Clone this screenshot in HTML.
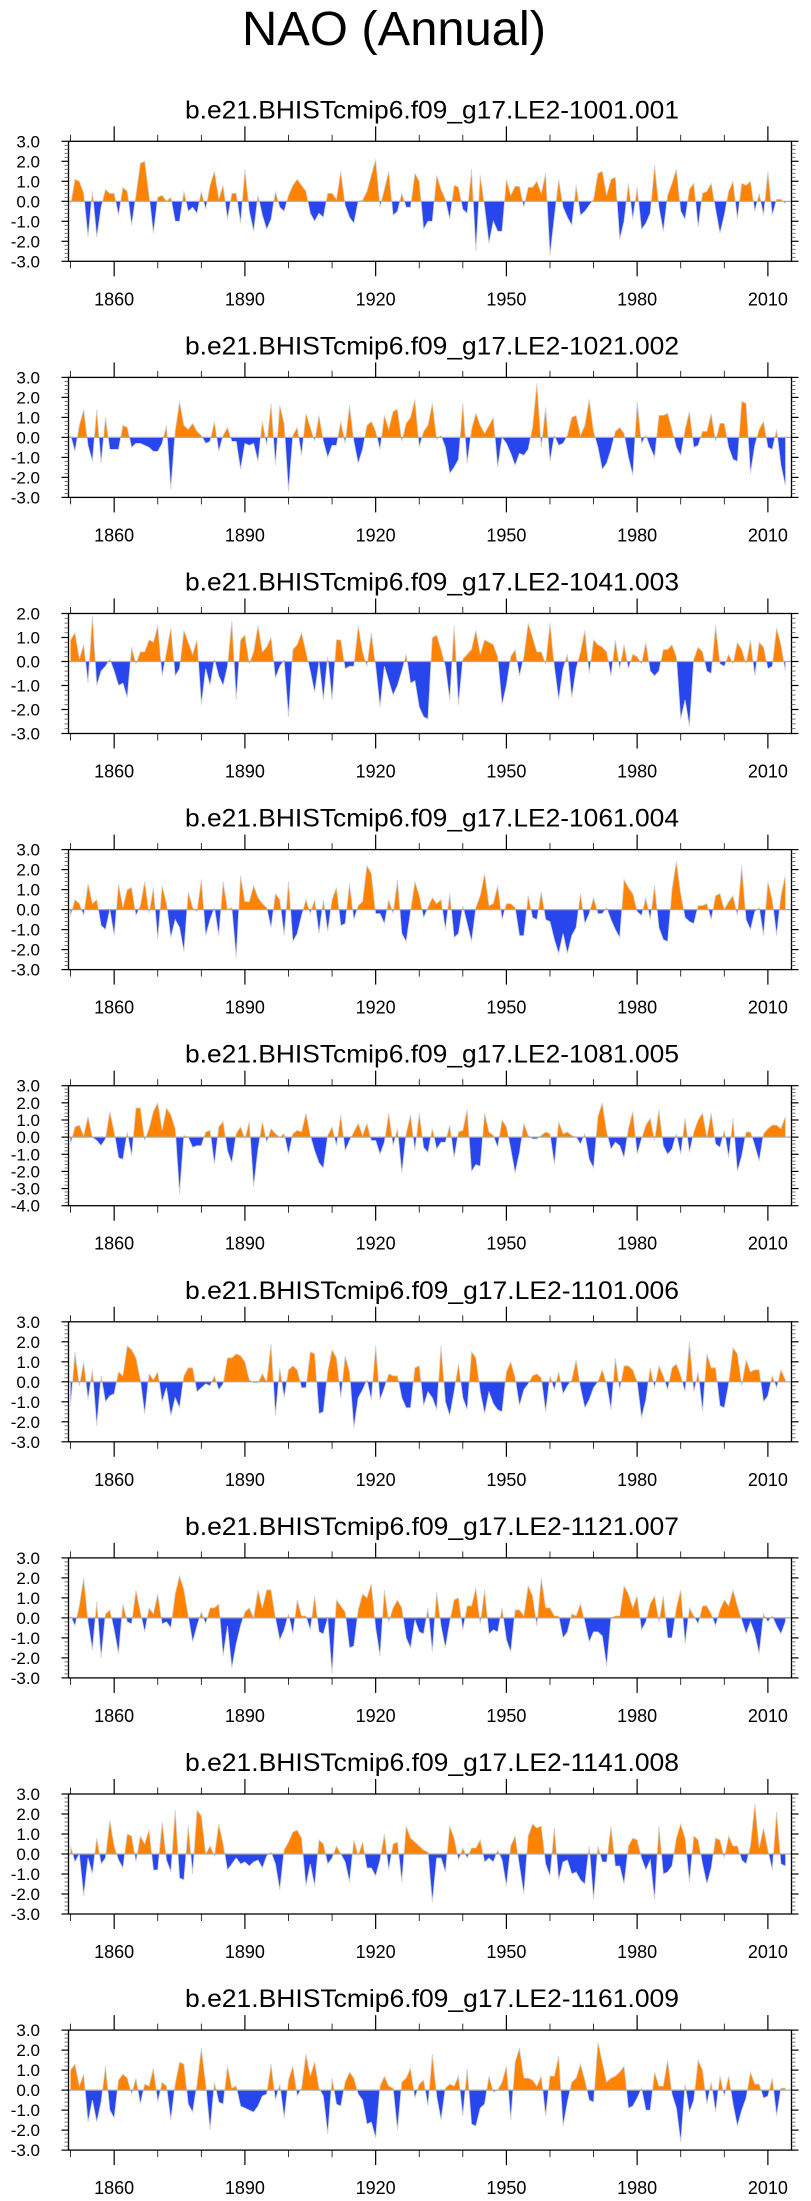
<!DOCTYPE html>
<html>
<head>
<meta charset="utf-8">
<style>
html,body{margin:0;padding:0;background:#fff;}
svg{display:block;}
text{font-family:"Liberation Sans",Arial,sans-serif;fill:#000;}
</style>
</head>
<body>
<svg id="chart" width="811" height="2201" viewBox="0 0 811 2201" xmlns="http://www.w3.org/2000/svg">
<rect x="0" y="0" width="811" height="2201" fill="#fff"/>
<text x="394" y="45" font-size="48" text-anchor="middle" textLength="304" lengthAdjust="spacingAndGlyphs">NAO (Annual)</text>
</svg>
<script>
const startYear = 1850;
const panelTitles = [
 "b.e21.BHISTcmip6.f09_g17.LE2-1001.001",
 "b.e21.BHISTcmip6.f09_g17.LE2-1021.002",
 "b.e21.BHISTcmip6.f09_g17.LE2-1041.003",
 "b.e21.BHISTcmip6.f09_g17.LE2-1061.004",
 "b.e21.BHISTcmip6.f09_g17.LE2-1081.005",
 "b.e21.BHISTcmip6.f09_g17.LE2-1101.006",
 "b.e21.BHISTcmip6.f09_g17.LE2-1121.007",
 "b.e21.BHISTcmip6.f09_g17.LE2-1141.008",
 "b.e21.BHISTcmip6.f09_g17.LE2-1161.009"
];
const yMins = [-3,-3,-3,-3,-4,-3,-3,-3,-3];
const yMaxs = [3,3,2,3,3,3,3,3,3];
const xTickYears = [1860,1890,1920,1950,1980,2010];
const xMinorYears = [1850,1870,1880,1900,1910,1930,1940,1960,1970,1990,2000];

const nao001 = [-0.2,1.1,1.0,0.4,-1.8,0.5,-1.8,-0.3,0.6,0.4,
0.4,-0.7,0.7,0.5,-1.2,0.3,1.9,2.0,0.3,-1.6,
0.2,0.3,0.0,0.2,-1.0,-1.0,0.5,-0.5,-0.3,-0.6,
0.5,-0.4,0.8,1.5,0.1,0.8,-0.9,0.4,0.4,-1.1,
1.6,-0.5,-1.5,0.3,-0.7,-1.4,-0.9,0.5,-0.3,-0.5,
0.3,0.8,1.1,0.8,0.5,-0.6,-1.0,-0.6,-0.8,0.4,
0.4,0.1,1.5,-0.2,-0.8,-1.1,0.0,0.05,0.5,1.3,
2.1,-0.3,0.6,1.5,-0.7,-0.5,0.4,-0.3,-0.3,1.4,
1.0,-1.4,-1.0,-1.0,1.3,0.6,0.1,-0.9,0.8,0.7,
-0.4,-0.6,1.6,-2.5,1.3,-0.3,-2.1,-1.0,-1.5,-1.5,
1.1,0.3,0.75,0.75,-0.3,0.7,0.7,1.0,0.4,1.4,
-2.7,-0.8,1.1,-0.3,-0.8,-1.2,0.8,-0.7,-0.5,-0.2,
0.1,1.4,1.5,0.3,1.1,1.2,-1.9,-1.0,0.9,-0.9,
0.7,-1.4,-1.1,-0.6,1.8,-0.3,-1.5,0.3,0.9,1.6,
-0.5,-0.9,0.6,0.9,-1.3,0.4,0.5,0.9,-0.4,-1.6,
-0.7,0.5,1.0,-0.9,0.9,0.8,1.0,-0.5,0.4,-0.7,
1.5,-0.7,0.1,0.1,-0.1];
const nao002 = [0.1,-0.7,0.6,1.4,-0.4,-1.2,1.4,-1.3,1.0,-0.6,
-0.6,-0.6,0.6,0.5,-0.5,-0.3,-0.3,-0.4,-0.5,-0.7,
-0.7,-0.3,0.6,-2.6,0.3,1.8,0.6,0.4,0.7,0.3,
0.1,-0.3,-0.2,0.8,-0.7,0.1,0.5,-0.2,-0.2,-1.6,
-0.3,-0.4,-0.3,-1.2,0.8,-0.4,1.7,-1.4,1.6,0.7,
-2.7,0.1,0.5,-0.9,1.2,0.5,-0.2,1.1,-0.2,-1.0,
-0.4,-0.4,0.8,-0.3,1.6,-0.2,-1.3,-0.6,0.6,0.8,
0.3,-0.6,1.1,0.4,1.3,1.4,-0.2,0.7,1.0,1.9,
-0.5,0.3,0.6,1.7,-0.1,0.1,-0.5,-1.8,-1.5,-1.1,
1.7,-1.3,0.4,1.2,0.6,0.2,0.6,1.0,-1.5,0.0,
-0.3,-0.8,-1.4,-0.8,-0.9,-0.6,0.5,2.7,-0.5,1.5,
-1.2,0.1,-0.4,-0.3,0.1,1.0,1.1,0.1,0.6,1.9,
0.3,-0.5,-1.6,-1.3,-0.6,0.3,0.5,0.2,-1.0,-1.9,
1.8,-0.3,0.1,-0.5,-1.0,1.1,1.1,1.2,0.4,-0.5,
-0.9,0.4,1.3,-0.5,-0.4,0.3,0.3,1.2,-0.2,0.7,
0.7,-0.5,-1.1,-1.2,1.8,1.7,-1.8,-0.4,0.4,0.8,
-0.5,-0.6,0.4,-1.4,-2.4];
const nao003 = [0.9,1.2,0.1,0.7,-0.9,1.9,-1.0,-0.4,-0.2,0.1,
-0.4,-1.0,-0.9,-1.5,0.6,-0.1,0.4,0.4,0.9,0.8,
1.5,-0.6,0.4,1.4,-0.6,-0.3,1.3,0.8,0.3,0.9,
-1.8,-0.3,-1.0,0.1,-0.6,-1.0,-0.2,1.7,-1.6,0.9,
1.1,-0.1,0.4,1.5,0.4,0.6,1.0,-0.7,-0.2,0.05,
-2.3,0.5,0.7,1.2,0.4,-0.4,-1.3,0.0,-1.6,0.2,
-1.6,0.9,0.9,-0.3,-0.2,-0.2,1.5,0.4,-0.2,1.2,
-0.2,-1.9,-0.2,-0.8,-1.4,-1.0,-0.4,0.3,-0.9,-0.8,
-1.9,-2.3,-2.4,1.0,1.1,0.5,-0.2,-1.6,1.5,-1.8,
0.1,0.3,0.5,1.3,0.3,0.9,0.8,0.7,0.2,-1.8,
-1.0,0.2,0.5,-0.6,0.2,1.6,1.0,0.4,0.4,-0.1,
1.6,-0.2,-1.6,-0.3,0.3,-1.5,-0.3,0.4,1.3,-0.5,
0.9,0.7,0.6,0.4,-0.6,0.9,-0.3,0.7,-0.3,0.3,
0.2,-0.1,0.8,-0.4,-0.6,-0.4,0.5,0.5,0.7,0.2,
-2.4,-1.6,-2.7,0.1,0.6,0.4,-0.4,-0.5,1.5,-0.1,
-0.2,0.3,-0.1,0.8,0.5,-0.1,0.9,-0.6,0.8,0.6,
-0.3,-0.2,1.4,0.7,-0.4];
const nao004 = [-0.3,0.5,0.3,-0.3,1.3,0.3,0.5,-0.8,-1.0,0.0,
-1.3,1.3,0.1,1.0,1.1,-0.3,0.2,1.4,-0.2,1.1,
-1.5,1.2,0.3,-1.4,-0.5,-0.9,-2.1,0.9,0.1,-0.1,
1.5,-1.3,-0.5,0.1,-1.3,1.4,0.0,0.1,-2.4,1.7,
0.4,0.4,1.2,0.6,0.3,0.1,-0.9,0.8,0.5,-1.3,
1.4,-1.6,-1.2,-0.3,0.5,-0.2,0.5,-1.2,0.5,-1.1,
0.5,1.1,-0.8,-0.7,1.3,-0.5,0.2,0.4,2.2,1.8,
-0.2,-0.2,-0.7,0.5,-0.2,1.5,-1.2,-1.6,-0.1,1.4,
0.7,-0.4,0.1,0.6,0.3,0.5,-1.0,0.8,-1.4,-1.2,
0.2,-0.7,-1.6,0.1,0.7,1.8,0.2,0.3,1.2,-0.5,
0.3,0.3,0.1,-1.3,-1.3,0.7,-0.4,-0.5,0.9,-0.5,
-0.6,-1.5,-2.2,-1.2,-2.2,-1.3,-0.9,0.8,-0.7,-0.2,
0.6,-0.2,-0.2,0.1,-0.5,-1.0,-1.4,1.5,1.1,0.8,
-0.1,-0.3,0.6,-0.5,1.2,-0.9,-1.5,-1.6,1.0,2.4,
0.8,-0.4,-0.6,-0.7,0.2,0.2,0.3,-0.5,0.7,0.8,
0.0,0.4,0.7,-0.3,2.2,-0.5,-1.0,-0.1,0.1,-1.3,
1.4,0.5,-1.3,0.7,1.7];
const nao005 = [-0.4,0.6,0.7,0.1,1.2,0.0,-0.2,-0.5,-0.1,1.5,
0.3,-1.2,-1.3,0.3,-1.1,1.7,1.7,-0.2,0.5,1.5,
2.0,0.4,1.7,1.3,0.5,-3.3,0.1,0.0,-0.6,-0.5,
-0.5,0.3,0.4,-1.6,0.6,0.9,-0.8,-1.5,0.2,0.6,
-0.1,0.9,-2.9,-0.7,0.9,-0.3,0.5,0.2,0.0,0.2,
-1.0,0.2,0.4,0.3,1.4,0.1,-0.8,-1.5,-1.8,0.1,
0.6,-0.5,1.3,-0.8,-0.2,0.3,0.8,0.1,0.8,-0.2,
-0.2,-1.0,-0.3,1.4,-0.5,0.5,-2.1,0.2,1.3,-0.8,
1.4,-0.6,-0.9,0.5,-0.7,-0.3,-0.3,0.7,-1.2,0.3,
0.4,1.6,-2.0,-1.6,-1.7,1.4,0.3,0.1,-0.6,1.0,
0.6,-0.7,-2.1,-0.9,0.8,0.1,-0.1,-0.1,0.1,0.3,
0.2,-1.6,0.9,0.2,0.3,0.1,0.0,-0.4,0.2,-1.3,
-1.8,1.2,2.0,0.3,-0.7,-0.3,-0.5,-1.2,0.5,1.5,
-1.0,-0.1,0.7,1.1,-0.2,1.6,-0.5,-1.0,-0.7,0.2,
-1.0,1.1,-0.9,0.3,1.0,1.4,0.0,1.4,-0.4,-0.6,
0.4,-1.2,1.1,-2.0,-1.1,0.3,0.3,-0.5,-1.4,0.2,
0.5,0.7,0.7,0.5,1.2];
const nao006 = [-1.2,1.5,-0.2,1.0,-0.9,0.6,-2.2,0.3,-1.0,-0.7,
-0.6,0.5,0.3,1.8,1.6,1.2,0.1,-1.6,0.4,0.1,
0.5,-1.0,-0.3,-1.7,-0.8,-1.3,0.3,0.7,0.7,-0.5,
-0.3,-0.1,-0.2,0.3,-0.4,-0.1,1.2,1.2,1.4,1.3,
1.0,0.1,-0.05,-0.05,0.4,0.0,1.9,-1.7,0.7,-0.8,
0.6,0.8,0.6,-0.3,-0.3,1.5,1.4,-1.6,-1.5,0.5,
1.6,1.2,-0.8,1.3,0.5,-2.3,-0.8,-0.4,0.1,-0.9,
1.8,-0.9,-0.3,0.4,0.3,0.3,-0.8,-1.3,-1.3,0.7,
0.8,-1.2,-0.5,-0.8,-1.4,1.8,-1.0,-1.7,-0.5,0.9,
-0.8,-1.4,1.5,1.2,-0.5,-1.6,-0.5,-1.1,-1.4,-1.5,
0.5,1.0,0.2,-1.2,-0.4,-0.1,0.3,0.4,0.2,-1.5,
0.3,-0.4,0.5,-0.6,-0.2,0.1,1.1,-0.3,-1.3,-0.9,
-0.3,0.0,0.6,-0.1,-1.4,1.2,-0.4,0.8,0.8,0.6,
0.0,-1.8,-0.9,0.7,-0.3,0.8,0.3,-0.4,0.7,0.9,
0.3,-0.5,2.0,-0.5,0.5,-1.5,1.4,0.7,0.7,-1.2,
-1.3,-0.1,1.7,1.4,-0.2,1.1,0.5,0.6,0.6,-1.0,
-0.7,0.3,-0.3,0.6,0.1];
const nao007 = [0.1,-0.4,0.6,2.0,-0.2,-1.6,0.8,-2.0,0.2,0.4,
-0.6,-1.8,0.7,-0.2,-0.3,1.4,0.3,-0.7,0.5,0.2,
1.2,-0.3,-0.2,-0.5,1.2,2.1,1.4,0.1,-1.2,-0.4,
0.3,-0.3,0.5,0.5,0.7,-1.9,-0.4,-2.5,-1.3,-0.4,
0.3,0.5,0.0,1.4,0.5,1.4,1.4,0.0,-1.1,-0.6,
0.2,-0.8,0.9,0.1,0.1,-0.6,1.1,-0.7,-0.8,0.0,
-2.8,0.9,0.6,0.3,-1.5,-1.4,0.4,1.2,1.0,1.7,
-0.5,-1.9,1.4,-0.2,0.5,0.9,0.5,-1.0,-1.5,-0.1,
-0.7,-0.8,0.5,-1.7,1.3,-0.4,-1.5,-0.2,0.9,1.0,
-0.6,0.6,0.6,1.5,-0.3,1.4,-0.8,-0.6,-0.7,0.5,
-1.1,-1.7,0.4,0.4,0.1,1.6,1.1,-0.4,2.0,0.5,
0.5,0.1,0.1,-1.0,-0.7,0.2,0.1,0.7,-0.2,-1.2,
-0.7,-0.7,-0.9,-2.4,0.0,0.1,0.1,1.6,1.2,0.5,
1.1,-0.6,-0.2,0.7,1.1,-0.2,1.1,-1.0,-1.0,0.5,
1.4,-1.3,0.5,0.1,-0.3,0.6,0.6,0.2,-0.4,0.4,
0.9,0.6,1.4,0.6,-0.1,-0.8,-0.2,-0.8,-1.8,0.2,
-0.2,0.1,-0.4,-0.8,-0.2];
const nao008 = [0.4,-0.4,0.0,-2.1,-0.2,-1.0,0.8,-0.5,-0.2,1.7,
0.4,-0.3,-0.7,1.0,0.9,-0.4,0.9,0.5,1.2,-0.8,
-0.8,1.6,-0.3,-0.9,2.2,-1.2,-1.3,1.4,-1.0,2.2,
1.9,0.0,0.4,-0.1,1.5,0.5,-0.8,-0.5,-0.2,-0.5,
-0.4,-0.6,-0.4,-0.3,-0.7,-0.1,0.1,-0.5,-1.8,0.2,
0.6,1.1,1.2,0.8,-1.6,-0.5,-1.6,0.7,0.5,-0.5,
-0.2,0.4,0.0,-0.4,-1.4,0.7,-0.1,0.6,-0.7,-0.7,
-1.1,-0.3,1.0,-0.8,0.5,0.6,-1.4,1.4,0.8,0.6,
0.4,0.2,0.1,-2.4,-0.2,-0.2,-0.9,1.4,0.8,-0.3,
0.3,-0.2,0.3,0.3,0.7,-0.4,-0.2,-0.4,0.2,-0.3,
-1.6,0.4,0.9,-0.6,-2.0,0.9,1.5,1.3,1.4,-0.5,
-1.1,1.3,-1.3,-0.4,-0.3,-1.0,-0.9,-1.3,-1.5,0.4,
-2.3,0.4,-0.4,-0.4,1.4,-0.6,-0.6,-1.5,0.4,0.8,
0.7,-0.2,-0.8,-0.3,-2.3,1.4,-1.0,-0.9,-0.6,0.8,
1.5,0.8,-1.4,0.9,0.7,-0.5,-1.5,-0.7,0.8,0.7,
-0.2,0.9,0.4,0.4,-0.3,-0.5,0.4,2.5,0.3,1.3,
0.2,-0.8,2.1,-0.5,-0.6];
const nao009 = [1.0,1.3,0.2,0.8,-1.6,-0.5,-1.6,-0.6,1.2,-1.0,
-1.4,0.5,0.8,0.6,-0.2,0.6,-0.7,0.3,0.2,1.1,
-0.6,0.4,0.2,-1.5,0.3,1.4,1.3,-0.7,-1.1,0.3,
2.1,0.3,-2.0,0.4,-0.6,-0.7,1.2,0.1,0.2,-0.8,
-0.9,-1.0,-1.1,-0.8,-0.3,-0.2,1.3,-0.5,0.3,-1.4,
0.5,1.2,-0.3,0.1,1.8,0.7,1.4,0.1,-0.3,-2.2,
0.6,-0.7,-0.8,0.4,0.9,0.6,-0.2,-0.5,-1.7,-1.6,
-2.4,0.2,0.7,0.2,0.1,-2.0,0.4,0.6,1.1,-0.4,
0.3,0.5,-0.8,1.8,-0.3,-1.5,0.1,0.3,0.2,0.7,
-1.3,1.1,-1.7,-1.8,-0.9,-0.7,0.7,-0.1,0.0,0.4,
1.2,-1.5,1.4,2.1,0.6,0.6,0.5,0.2,0.7,-1.3,
0.7,0.7,1.7,-1.8,-0.6,0.4,0.6,1.3,0.5,-0.5,
-0.6,2.4,1.4,0.4,0.6,0.7,0.9,1.2,-0.9,-0.8,
-0.4,0.1,-1.0,-1.0,0.9,0.2,0.2,1.5,-0.2,-0.9,
-2.6,0.3,-1.1,-0.5,1.5,1.0,-0.7,0.4,-1.1,0.7,
-0.3,0.7,-0.7,-1.8,-1.0,-0.4,0.9,0.3,0.3,-0.4,
-0.3,0.6,-1.3,0.1,0.1];
const allSeries = [nao001,nao002,nao003,nao004,nao005,nao006,nao007,nao008,nao009];

const NS = "http://www.w3.org/2000/svg";
const svg = document.getElementById("chart");
const plotLeft = 68.5, plotRight = 791.5, plotH = 120, firstTop = 141.3, panelStep = 236.1;
const xMinYear = 1849.52, xMaxYear = 2015.42;
function xScale(yr){ return plotLeft + (yr - xMinYear) / (xMaxYear - xMinYear) * (plotRight - plotLeft); }
function mk(tag, attrs, parent){
  const e = document.createElementNS(NS, tag);
  for (const k in attrs) e.setAttribute(k, attrs[k]);
  (parent || svg).appendChild(e);
  return e;
}

allSeries.forEach((vals, p) => {
  const top = firstTop + p * panelStep, bot = top + plotH;
  const ymin = yMins[p], ymax = yMaxs[p];
  const yScale = v => bot - (v - ymin) / (ymax - ymin) * plotH;
  const g = mk("g", {});
  
  

  const title = mk("text", {x: 432, y: top - 23, "font-size": 25, "text-anchor": "middle", textLength: 494, lengthAdjust: "spacingAndGlyphs"}, g);
  title.textContent = panelTitles[p];
  
  

  // points with zero crossings inserted
  const pts = [];
  for (let i = 0; i < vals.length; i++) {
    const yr = startYear + i, v = vals[i];
    if (i > 0) {
      const pv = vals[i - 1];
      if ((pv > 0 && v < 0) || (pv < 0 && v > 0)) {
        const f = pv / (pv - v);
        pts.push([yr - 1 + f, 0]);
      }
    }
    pts.push([yr, v]);
  }
  const y0 = yScale(0);
  const firstX = xScale(pts[0][0]), lastX = xScale(pts[pts.length - 1][0]);
  let pos = "M" + firstX + "," + y0, neg = pos, line = "";
  pts.forEach((q, i) => {
    const X = xScale(q[0]).toFixed(2);
    pos += " L" + X + "," + yScale(Math.max(q[1], 0)).toFixed(2);
    neg += " L" + X + "," + yScale(Math.min(q[1], 0)).toFixed(2);
    line += (i ? " L" : "M") + X + "," + yScale(q[1]).toFixed(2);
  });
  pos += " L" + lastX + "," + y0 + " Z";
  neg += " L" + lastX + "," + y0 + " Z";
  const posEl = mk("path", {d: pos, fill: "#ff8200", stroke: "none"}, g);
  
  
  const negEl = mk("path", {d: neg, fill: "#2846ee", stroke: "none"}, g);
  
  
  const lnEl = mk("path", {d: line, fill: "none", stroke: "#d0d0d0", "stroke-width": 0.8}, g);
  
  
  const zl = mk("line", {x1: plotLeft, x2: plotRight, y1: y0, y2: y0, stroke: "#aaaaaa", "stroke-width": 1.2}, g);
  
  

  const box = mk("rect", {x: plotLeft, y: top, width: plotRight - plotLeft, height: plotH, fill: "none", stroke: "#000", "stroke-width": 1.3}, g);
  
  

  // x ticks
  xTickYears.forEach(yr => {
    const X = xScale(yr);
    const t1 = mk("line", {x1: X, x2: X, y1: top, y2: top - 15, stroke: "#000", "stroke-width": 1.2}, g);
    
    
    const t2 = mk("line", {x1: X, x2: X, y1: bot, y2: bot + 15, stroke: "#000", "stroke-width": 1.2}, g);
    
    
    const lb = mk("text", {x: X, y: bot + 44, "font-size": 18, "text-anchor": "middle"}, g);
    lb.textContent = yr;
    
    
  });
  xMinorYears.forEach(yr => {
    const X = xScale(yr);
    const t1 = mk("line", {x1: X, x2: X, y1: top, y2: top - 6.5, stroke: "#000", "stroke-width": 0.8}, g);
    
    
    const t2 = mk("line", {x1: X, x2: X, y1: bot, y2: bot + 7, stroke: "#000", "stroke-width": 0.8}, g);
    
    
  });
  // y ticks
  for (let k = Math.round(ymin * 5); k <= Math.round(ymax * 5); k++) {
    const v = k / 5, Y = yScale(v), major = (k % 5 === 0), len = major ? 7 : 4;
    const l1 = mk("line", {x1: plotLeft, x2: plotLeft - len, y1: Y, y2: Y, stroke: major ? "#000" : "#555", "stroke-width": major ? 1.2 : 0.8}, g);
    
    
    const l2 = mk("line", {x1: plotRight, x2: plotRight + len, y1: Y, y2: Y, stroke: major ? "#000" : "#555", "stroke-width": major ? 1.2 : 0.8}, g);
    
    
    if (major) {
      const lb = mk("text", {x: 40, y: Y + 6, "font-size": 17, "text-anchor": "end"}, g);
      lb.textContent = v.toFixed(1);
      
      
    }
  }
});
</script>
</body>
</html>
